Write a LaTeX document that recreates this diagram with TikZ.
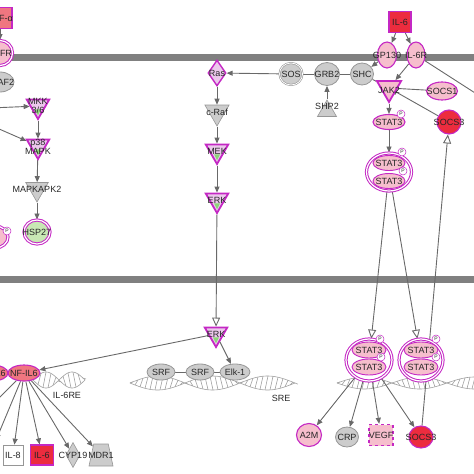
\documentclass[tikz,border=0pt]{standalone}
\usepackage{fontspec}
\setmainfont{Liberation Sans}
\usetikzlibrary{shapes.geometric,arrows.meta,backgrounds}

\definecolor{mag}{RGB}{196,40,196}
\definecolor{pinkf}{RGB}{246,190,205}
\definecolor{salmon}{RGB}{240,118,128}
\definecolor{redf}{RGB}{236,44,62}
\definecolor{grayf}{RGB}{204,204,204}
\definecolor{grayd}{RGB}{150,150,150}
\definecolor{edge}{RGB}{105,105,105}
\definecolor{membr}{RGB}{128,128,128}
\definecolor{grn}{RGB}{140,215,120}
\definecolor{grnf}{RGB}{200,232,180}
\definecolor{kinf}{RGB}{236,200,236}
\definecolor{dna}{RGB}{160,160,160}

\tikzset{
  mol/.style={ellipse, draw=mag, line width=1.1pt, fill=pinkf, inner sep=0pt},
  molx/.style={mol, double=white, double distance=1.2pt, line width=1pt},
  gmol/.style={ellipse, draw=grayd, line width=0.8pt, fill=grayf, inner sep=0pt},
  kin/.style={regular polygon, regular polygon sides=3, shape border rotate=180, draw=mag, line width=1.8pt, fill=kinf, inner sep=0pt, minimum size=26,
    path picture={\fill[grn] (path picture bounding box.center) ++(-3pt,0pt) -- ++(6pt,0pt) -- ++(-3pt,-6pt) -- cycle;}},
  gkin/.style={regular polygon, regular polygon sides=3, shape border rotate=180, draw=grayd, line width=0.6pt, fill=grayf, inner sep=0pt, minimum size=26},
  gtp/.style={diamond, draw=mag, line width=1.4pt, fill=kinf, inner sep=0pt, minimum width=18, minimum height=26},
  sq/.style={rectangle, draw=mag, line width=1.2pt, inner sep=0pt, minimum width=22, minimum height=21},
  phos/.style={circle, draw=mag, line width=0.5pt, fill=white, inner sep=0pt, minimum size=8, font=\fontsize{5}{5}\selectfont},
  arr/.style={draw=edge, line width=0.9pt, -{Triangle[length=6pt,width=5pt]}},
  tl/.style={draw=edge, line width=0.9pt, -{Triangle[fill=white,length=9pt,width=8pt]}},
  inh/.style={draw=edge, line width=0.9pt, -{Bar[width=6pt]}},
  link/.style={draw=edge, line width=0.9pt},
  dnaln/.style={draw=dna, line width=0.6pt}
}

\begin{document}
\begin{tikzpicture}[x=1pt, y=-1pt, font=\fontsize{9}{9.5}\selectfont, text=black!85]
  \useasboundingbox (0,0) rectangle (474,474);
  \clip (0,0) rectangle (474,474);

  % membranes and promoter DNA
  \begin{scope}[on background layer]
    \fill[membr] (0,53.5) rectangle (474,60.5);
    \fill[membr] (0,276) rectangle (474,283);
    \foreach \a/\b/\c/\p/\h in {33/85/380/52/8, 130/295/383/110/7, 337/500/383/110/6} {
      \pgfmathsetmacro\hs{\a+5}
      \draw[dnaln, domain=\a:\b, samples=80] plot (\x,{\c+\h*sin(360/\p*(\x-\a))});
      \draw[dnaln, domain=\a:\b, samples=80] plot (\x,{\c-\h*sin(360/\p*(\x-\a))});
      \foreach \x in {\a,\hs,...,\b}
        \draw[dnaln] (\x,{\c+\h*sin(360/\p*(\x-\a))}) -- (\x+3,{\c-\h*sin(360/\p*(\x+3-\a))});
    }
  \end{scope}

  % TNF / p38 branch
  \node[sq, fill=salmon, minimum width=24, label=center:TNF-α] (tnfa) at (0,18) {};
  \node[molx, minimum width=25, minimum height=25, label=center:TNFR] (tnfr) at (0,53) {};
  \node[gmol, minimum width=28, minimum height=20, label=center:TRAF2] (traf2) at (0,82) {};
  \node[kin, label={[align=center]center:MKK\\3/6}] (mkk) at (38,106) {};
  \node[kin, label={[align=center, yshift=-1pt]center:p38\\MAPK}] (p38) at (38,146) {};
  \node[gkin, label=center:MAPKAPK2] (mk2) at (37,189) {};
  \node[molx, fill=grnf, minimum width=26, minimum height=24, label=center:HSP27] (hsp27) at (37,232) {};
  \node[molx, minimum width=26, minimum height=22] (lcx) at (-5,237) {};
  \node[phos] (lcxp) at (7,231) {P};
  \coordinate (lft1) at (-10,108);
  \coordinate (lft2) at (-10,125);

  % Ras / ERK branch
  \node[gtp, label=center:Ras] (ras) at (217,73) {};
  \node[gmol, double=white, double distance=0.8pt, line width=0.6pt, minimum width=23, minimum height=22, label=center:SOS] (sos) at (291,74) {};
  \node[gmol, minimum width=25, minimum height=23, label=center:GRB2] (grb2) at (327,74) {};
  \node[gmol, minimum width=23, minimum height=22, label=center:SHC] (shc) at (362,74) {};
  \node[gkin, shape border rotate=0, minimum size=22, label={[yshift=5pt]center:SHP2}] (shp2) at (327,111) {};
  \node[gkin, minimum size=28, label=center:c-Raf] (craf) at (217,112) {};
  \node[kin, label=center:MEK] (mek) at (217,151) {};
  \node[kin, label=center:ERK] (erk) at (217,200) {};
  \node[kin, label=center:ERK] (erkn) at (216,334) {};
  \node[gmol, minimum width=28, minimum height=16, label=center:SRF] (srf1) at (161,372) {};
  \node[gmol, minimum width=28, minimum height=16, label=center:SRF] (srf2) at (200,372) {};
  \node[gmol, minimum width=30, minimum height=16, label=center:Elk-1] (elk1) at (235,372) {};
  \node (sre) at (281,398) {SRE};

  % NF-IL6 targets
  \node[mol, fill=salmon, minimum width=32, minimum height=16, label=center:NF-IL6] (nfil6b) at (-8,373) {};
  \node[mol, fill=salmon, minimum width=32, minimum height=16, label=center:NF-IL6] (nfil6) at (24,373) {};
  \node (il6re) at (67,395) {IL-6RE};
  \node[sq, draw=grayd, line width=0.6pt, fill=white, minimum width=20, minimum height=20, label=center:IL-8] (il8) at (13,455) {};
  \node[sq, fill=redf, minimum width=23, minimum height=20, label=center:IL-6] (il6b) at (42,455) {};
  \node[diamond, draw=grayd, line width=0.6pt, fill=grayf, inner sep=0pt, minimum width=14, minimum height=25, label=center:CYP19] (cyp19) at (73,455) {};
  \node[trapezium, trapezium left angle=72, trapezium right angle=72, trapezium stretches=true, draw=grayd, line width=0.6pt, fill=grayf, inner sep=1pt, minimum width=24, minimum height=22, label=center:MDR1] (mdr1) at (101,455) {};
  \coordinate (offa) at (-30,427);
  \coordinate (offb) at (-4,440);

  % IL-6 / STAT3 branch
  \node[sq, fill=redf, label=center:IL-6] (il6) at (400,22) {};
  \node[mol, minimum width=19, minimum height=26, label=center:GP130] (gp130) at (387,55) {};
  \node[mol, minimum width=18, minimum height=26, label=center:IL-6R] (il6r) at (416,55) {};
  \node[kin, fill=pinkf, minimum size=28, path picture={}, label={[yshift=-2pt]center:JAK2}] (jak2) at (389,88) {};
  \node[mol, minimum width=31, minimum height=18, label=center:SOCS1] (socs1) at (442,91) {};
  \node[mol, minimum width=32, minimum height=15, label=center:STAT3] (stat3) at (389,122) {};
  \node[phos] (stat3p) at (401,114) {P};
  \node[mol, fill=redf, minimum width=24, minimum height=24, label=center:SOCS3] (socs3) at (449,122) {};
  \coordinate (offr) at (500,109);

  \node[molx, fill=white, minimum width=45, minimum height=38] (dimer) at (389,172) {};
  \node[mol, minimum width=32, minimum height=15, line width=0.9pt, label=center:STAT3] (dimera) at (389,163) {};
  \node[mol, minimum width=32, minimum height=15, line width=0.9pt, label=center:STAT3] (dimerb) at (389,181) {};
  \node[phos] (dimerpa) at (402,152) {P};
  \node[phos] (dimerpb) at (403,171) {P};

  \node[molx, fill=white, minimum width=46, minimum height=42] (dimerl) at (369,360) {};
  \node[mol, minimum width=34, minimum height=16, line width=0.9pt, label=center:STAT3] (dimerla) at (369,350) {};
  \node[mol, minimum width=34, minimum height=16, line width=0.9pt, label=center:STAT3] (dimerlb) at (369,367) {};
  \node[phos] (dimerlpa) at (380,339) {P};
  \node[phos] (dimerlpb) at (381,357) {P};

  \node[molx, fill=white, minimum width=44, minimum height=42] (dimerr) at (421,360) {};
  \node[mol, minimum width=34, minimum height=16, line width=0.9pt, label=center:STAT3] (dimerra) at (421,350) {};
  \node[mol, minimum width=34, minimum height=16, line width=0.9pt, label=center:STAT3] (dimerrb) at (421,367) {};
  \node[phos] (dimerrpa) at (436,339) {P};
  \node[phos] (dimerrpb) at (436,357) {P};

  \node[mol, minimum width=25, minimum height=23, label=center:A2M] (a2m) at (309,435) {};
  \node[gmol, minimum width=23, minimum height=20, label=center:CRP] (crp) at (347,437) {};
  \node[sq, fill=pinkf, dashed, line width=1.4pt, minimum width=24, minimum height=21, label=center:VEGF] (vegf) at (381,435) {};
  \node[mol, fill=redf, minimum width=24, minimum height=22, label=center:SOCS3] (socs3n) at (421,437) {};

  % connectors
  \begin{scope}[on background layer]
    \draw[arr] (tnfa) -- (tnfr);
    \draw[arr] (lft1) -- (mkk);
    \draw[arr] (lft2) -- (p38);
    \draw[arr] (mkk) -- (p38);
    \draw[arr] (p38) -- (mk2);
    \draw[arr] (mk2) -- (hsp27);
    \draw[arr] (sos) -- (ras);
    \draw[link] (sos) -- (grb2) -- (shc);
    \draw[arr] (shp2) -- (grb2);
    \draw[arr] (ras) -- (craf);
    \draw[arr] (craf) -- (mek);
    \draw[arr] (mek) -- (erk);
    \draw[tl] (erk) -- (erkn);
    \draw[arr] (erkn) -- (nfil6);
    \draw[arr] (erkn) -- (elk1);
    \draw[link] (srf1) -- (srf2) -- (elk1);
    \foreach \g in {il8,il6b,cyp19,mdr1,offa,offb}
      \draw[arr] (nfil6) -- (\g);
    \draw[arr] (il6) -- (gp130);
    \draw[arr] (il6) -- (il6r);
    \draw[arr] (gp130) -- (shc);
    \draw[arr] (il6r) -- (jak2);
    \draw[link] (shc) -- (jak2) -- (socs1);
    \draw[link] (il6r) -- (offr);
    \draw[inh] (socs3) -- (jak2);
    \draw[arr] (jak2) -- (stat3);
    \draw[arr] (stat3) -- (dimer);
    \draw[tl] (dimer) -- (dimerl);
    \draw[tl] (dimer) -- (dimerr);
    \foreach \g in {a2m,crp,vegf,socs3n}
      \draw[arr] (dimerl) -- (\g);
    \draw[tl] (socs3n) -- (socs3);
  \end{scope}
\end{tikzpicture}
\end{document}
